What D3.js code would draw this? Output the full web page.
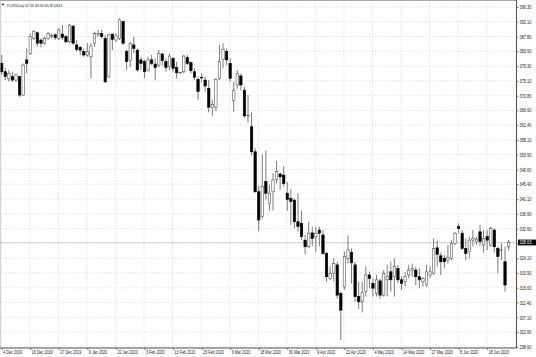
<!DOCTYPE html>
<html>
<head>
<meta charset="utf-8">
<script src="https://cdnjs.cloudflare.com/ajax/libs/d3/7.8.5/d3.min.js"></script>
<style>
body { margin: 0; background: #fff; }
svg { display: block; font-family: "Liberation Sans", Arial, sans-serif; }
</style>
</head>
<body>
<svg class="chart"></svg>
<script>
// PCORN daily candles (one value per bar)
var open = [
  380.1,377.7,375.8,376.3,375.3,376.3,371.0,381.1,383.0,387.3,388.9,386.8,385.9,387.3,388.0,388.3,387.3,388.5,387.8,386.3,
  390.8,385.4,384.7,383.5,382.5,382.0,385.9,388.3,388.7,387.3,376.3,388.5,386.8,387.3,392.1,383.5,381.0,385.4,383.9,381.1,
  380.6,378.2,381.1,379.9,379.6,382.8,380.6,379.2,381.5,378.9,377.4,377.7,381.8,380.3,377.7,375.5,376.1,375.3,372.9,367.5,
  367.5,375.8,381.3,383.5,380.1,369.4,373.9,376.5,372.4,365.0,361.9,354.7,343.2,336.1,346.1,339.9,343.2,346.8,348.3,348.0,
  342.8,341.3,340.8,334.6,334.1,329.3,327.4,331.4,330.3,332.2,330.8,325.5,318.3,319.8,322.2,314.0,315.9,324.1,325.7,322.2,
  313.1,311.6,314.5,319.3,316.9,314.0,317.6,313.5,317.9,320.2,318.8,321.2,317.9,317.4,319.3,320.7,320.7,318.8,317.4,316.4,
  319.3,319.8,327.1,324.8,324.1,323.6,324.1,328.4,333.2,331.3,326.9,326.0,329.3,328.9,331.7,327.9,330.3,327.9,332.2,326.9,
  326.4,323.1,327.38
];
var high = [
  382.5,378.8,378.2,377.7,377.2,376.5,380.1,384.4,388.7,389.7,389.2,387.3,387.8,389.2,388.7,388.7,390.2,391.1,388.3,391.4,
  391.1,386.8,385.1,384.4,385.9,385.9,389.2,389.7,389.7,388.3,388.7,388.7,388.7,393.0,392.4,384.0,386.3,387.8,384.4,382.0,
  381.1,382.0,382.5,381.5,384.0,383.0,381.5,383.0,382.0,380.6,377.7,382.5,382.5,380.6,378.7,376.3,377.2,376.3,375.3,369.6,
  375.8,385.4,385.9,384.4,381.5,374.8,378.2,377.2,373.4,371.0,366.0,355.7,345.0,354.0,355.0,345.2,348.5,352.0,348.7,350.6,
  346.0,344.0,341.3,342.8,337.8,330.8,334.6,333.2,333.0,333.2,332.2,326.0,321.8,324.1,323.1,314.5,326.0,330.6,326.9,323.1,
  317.3,317.3,321.8,320.3,318.3,319.3,318.3,320.7,322.2,323.1,324.1,322.2,318.8,320.2,322.2,322.6,321.7,321.2,318.8,322.2,
  321.7,329.8,329.2,325.7,325.0,327.9,329.3,331.7,334.1,332.2,329.8,330.3,332.2,330.3,333.7,332.2,332.2,333.2,332.7,327.4,
  328.4,327.4,329.39
];
var low = [
  376.8,375.3,374.8,374.8,374.8,370.5,370.7,377.2,382.5,386.8,384.9,384.7,385.4,386.8,387.3,386.8,386.8,386.8,385.9,385.9,
  385.4,383.5,382.5,382.0,382.0,375.8,384.9,387.8,387.3,374.5,375.8,383.9,386.3,386.8,385.4,378.2,379.0,383.0,377.7,378.2,
  375.8,377.7,379.6,375.3,379.0,379.6,377.7,378.2,377.7,375.8,377.2,377.2,379.6,377.2,375.3,369.6,374.8,371.9,366.0,365.0,
  366.4,375.3,378.7,379.6,374.8,366.2,372.9,372.4,364.5,363.1,353.7,343.0,331.9,335.5,341.0,337.8,337.8,345.6,343.7,344.7,
  337.8,333.7,332.7,331.7,329.3,325.2,327.0,327.5,326.0,327.5,325.0,317.3,317.8,317.3,312.5,300.6,315.0,322.6,316.8,311.6,
  309.5,308.5,313.1,315.5,313.1,313.1,312.5,313.1,313.1,314.5,313.1,316.9,315.0,316.0,318.3,318.8,316.4,315.5,315.9,315.9,
  318.3,319.3,321.7,319.3,321.2,322.6,323.6,327.9,331.3,326.5,323.6,324.1,327.4,327.9,327.5,325.7,326.4,327.4,325.7,319.8,
  323.6,314.5,326.38
];
var close = [
  377.7,376.3,377.2,375.3,376.8,371.0,379.6,380.1,387.8,389.2,385.9,385.9,387.3,388.7,388.1,387.5,389.7,387.6,386.3,391.1,
  385.9,384.1,383.9,382.5,383.5,385.1,388.7,388.7,387.8,374.8,388.3,387.0,388.0,392.6,385.9,380.6,385.9,384.4,378.2,380.1,
  377.7,381.1,380.1,378.9,383.0,380.9,378.9,382.2,378.7,377.4,377.5,382.2,380.1,378.0,376.1,372.0,376.0,373.6,367.5,368.3,
  375.5,380.6,384.1,381.1,375.8,372.4,377.2,373.9,365.0,365.2,354.7,343.2,335.1,344.7,342.8,342.8,346.6,349.0,347.5,345.6,
  341.0,340.4,334.6,333.2,330.3,327.4,331.3,329.8,331.3,331.3,325.5,318.8,319.8,322.6,313.5,309.2,324.6,326.5,322.8,313.1,
  311.6,314.2,319.3,318.3,315.5,317.9,313.5,319.8,318.8,317.9,321.7,317.9,316.9,318.8,320.7,321.2,318.8,317.9,318.3,320.2,
  320.2,326.9,325.2,323.1,323.1,324.3,328.4,331.3,332.7,326.9,325.5,329.3,329.8,329.6,328.9,329.8,329.3,332.7,327.4,324.6,
  326.5,316.4,328.63
];

// a date label every 8 bars
var dateLabels = ["4 Dec 2019", "16 Dec 2019", "27 Dec 2019", "9 Jan 2020", "22 Jan 2020", "3 Feb 2020",
  "13 Feb 2020", "25 Feb 2020", "6 Mar 2020", "18 Mar 2020", "30 Mar 2020", "9 Apr 2020", "22 Apr 2020",
  "4 May 2020", "14 May 2020", "27 May 2020", "8 Jun 2020", "18 Jun 2020"];
var priceTicks = [396.30, 392.10, 387.80, 383.60, 379.30, 375.10, 370.80, 366.60, 362.40, 358.10, 353.90, 349.60,
  345.40, 341.10, 336.90, 332.60, 328.40, 324.10, 319.90, 315.60, 311.40, 307.10, 302.90, 298.60];

var width = 536, height = 357;
var plotRight = 516.5, plotBottom = 348;
var last = close.length - 1;

var svg = d3.select(".chart").attr("width", width).attr("height", height);

var x = d3.scalePoint()
    .domain(d3.range(close.length))
    .range([1.7, 508.6]);

var y = d3.scaleLinear()
    .domain([298.60, 396.30])
    .range([347, 7]);

var labelIdx = dateLabels.map((d, i) => i * 8);

// grid
svg.append("g").selectAll("line")
    .data(priceTicks)
  .enter().append("line")
    .attr("x1", 0).attr("x2", plotRight)
    .attr("y1", d => y(d)).attr("y2", d => y(d))
    .attr("stroke", "#cfcfcf").attr("stroke-width", 0.6)
    .attr("stroke-dasharray", "1.5,1.5");

svg.append("g").selectAll("line")
    .data(labelIdx)
  .enter().append("line")
    .attr("x1", d => x(d) - 0.5).attr("x2", d => x(d) - 0.5)
    .attr("y1", 0).attr("y2", plotBottom)
    .attr("stroke", "#cfcfcf").attr("stroke-width", 0.6)
    .attr("stroke-dasharray", "1.5,1.5");

// current price line
svg.append("line")
    .attr("x1", 0).attr("x2", plotRight)
    .attr("y1", y(close[last])).attr("y2", y(close[last]))
    .attr("stroke", "#c4c4c4").attr("stroke-width", 0.7);

// candles
var bars = svg.append("g").selectAll("g")
    .data(d3.range(close.length))
  .enter().append("g");

bars.append("line")
    .attr("x1", i => x(i)).attr("x2", i => x(i))
    .attr("y1", i => y(high[i])).attr("y2", i => y(low[i]))
    .attr("stroke", "#444").attr("stroke-width", 0.7);

bars.append("rect")
    .attr("x", i => x(i) - 1.2)
    .attr("width", 2.4)
    .attr("y", i => y(Math.max(open[i], close[i])))
    .attr("height", i => Math.max(0.6, Math.abs(y(open[i]) - y(close[i]))))
    .attr("fill", i => close[i] >= open[i] ? "#fff" : "#000")
    .attr("stroke", i => close[i] >= open[i] ? "#555" : "#000")
    .attr("stroke-width", 0.6);

// frame
svg.append("line").attr("x1", 0).attr("x2", plotRight).attr("y1", 0.5).attr("y2", 0.5)
    .attr("stroke", "#a8a8a8").attr("stroke-width", 1);
svg.append("line").attr("x1", 0.3).attr("x2", 0.3).attr("y1", 0).attr("y2", plotBottom)
    .attr("stroke", "#a8a8a8").attr("stroke-width", 0.6);

// right price axis
var yAxis = g => g
    .attr("transform", "translate(" + plotRight + ",0)")
    .call(d3.axisRight(y).tickValues(priceTicks).tickFormat(d3.format(".2f")).tickSize(2).tickSizeOuter(0))
    .call(g => g.select(".domain").remove())
    .call(g => g.selectAll(".tick line").attr("stroke", "#333").attr("stroke-width", 0.6))
    .call(g => g.selectAll("text")
        .attr("x", 0).attr("dy", "0.35em")
        .attr("transform", "translate(3,0) scale(0.87,1)")
        .attr("font-size", 4.5).attr("fill", "#222"));

var xAxis = g => g
    .attr("transform", "translate(0," + plotBottom + ")")
    .call(d3.axisBottom(x).tickValues(labelIdx).tickFormat(i => dateLabels[i / 8]).tickSize(2).tickSizeOuter(0))
    .call(g => g.select(".domain").remove())
    .call(g => g.selectAll(".tick line").attr("stroke", "#333").attr("stroke-width", 0.6))
    .call(g => g.selectAll("text")
        .attr("x", 0).attr("y", 0).attr("dy", 0)
        .attr("text-anchor", "start")
        .attr("transform", "translate(1,5.6) scale(0.82,1)")
        .attr("font-size", 4.5).attr("fill", "#222"));

svg.append("g").call(yAxis);
svg.append("g").call(xAxis);

svg.append("line").attr("x1", plotRight).attr("x2", plotRight).attr("y1", 0).attr("y2", plotBottom)
    .attr("stroke", "#222").attr("stroke-width", 0.8);
svg.append("line").attr("x1", 0).attr("x2", plotRight).attr("y1", plotBottom).attr("y2", plotBottom)
    .attr("stroke", "#222").attr("stroke-width", 0.8);

// current price tag
svg.append("rect")
    .attr("x", plotRight + 1.5).attr("y", y(close[last]) - 2.9)
    .attr("width", 19).attr("height", 5.8)
    .attr("fill", "#000");
svg.append("text")
    .attr("transform", "translate(" + (plotRight + 3) + "," + y(close[last]) + ") scale(0.87,1)")
    .attr("dy", "0.35em")
    .attr("font-size", 4.5).attr("fill", "#fff")
    .text(d3.format(".2f")(close[last]));

// header
svg.append("path")
    .attr("d", "M1.5,3.8 L4.5,3.8 L3,5.8 Z")
    .attr("fill", "#222");
svg.append("text")
    .attr("transform", "translate(7,6.6) scale(0.66,1)")
    .attr("font-size", 4.3).attr("fill", "#222")
    .text("PCORN,Daily  " + [open[last], high[last], low[last], close[last]].map(d3.format(".2f")).join(" "));
</script>
</body>
</html>
